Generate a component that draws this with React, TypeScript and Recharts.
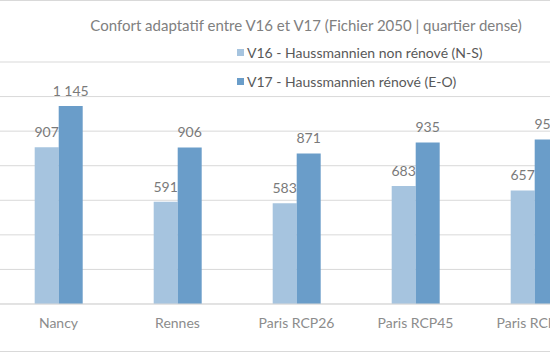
import React from "react";
import {
  BarChart,
  Bar,
  XAxis,
  YAxis,
  CartesianGrid,
  LabelList,
} from "recharts";

const categories = ["Nancy", "Rennes", "Paris RCP26", "Paris RCP45", "Paris RCP85"];
const v16Values = [907, 591, 583, 683, 657];
const v17Values = [1145, 906, 871, 935, 952];
const yTicks = [0, 200, 400, 600, 800, 1000, 1200, 1400];

const V16_NAME = "V16 - Haussmannien non rénové (N-S)";
const V17_NAME = "V17 - Haussmannien rénové (E-O)";
const TITLE = "Confort adaptatif entre V16 et V17 (Fichier 2050 | quartier dense)";

const LIGHT = "#a6c4df";
const DARK = "#6a9dc9";
const FONT = "Lato, 'Liberation Sans', sans-serif";

const data = categories.map((name, i) => ({
  name,
  v16: v16Values[i],
  v17: v17Values[i],
}));

const fmt = (v: any) => {
  const s = String(v);
  if (s.length > 3) return s.slice(0, s.length - 3) + " " + s.slice(s.length - 3);
  return s;
};

// plain text label above a bar, no wrapping
const TopLabel = (props: any) => {
  const { x, y, width, value } = props;
  return (
    <text
      x={x + width / 2}
      y={y - 10}
      textAnchor="middle"
      fill="#7a7a7a"
      fontSize={14}
      fontFamily={FONT}
    >
      {fmt(value)}
    </text>
  );
};

const legendItems = [
  { name: V16_NAME, color: LIGHT },
  { name: V17_NAME, color: DARK },
];

export default function App() {
  return (
    <div
      style={{
        position: "fixed",
        left: 0,
        top: 0,
        width: 550,
        height: 353,
        overflow: "hidden",
        background: "#fff",
      }}
    >
      <div style={{ position: "absolute", left: 0, top: 0, width: 550, height: 1, background: "#d9d9d9" }} />
      <div style={{ position: "absolute", left: 0, top: 351, width: 550, height: 1, background: "#d9d9d9" }} />
      <div style={{ position: "absolute", left: -1, top: 0 }}>
        <BarChart
          width={595}
          height={353}
          data={data}
          margin={{ top: 62, right: 0, left: 0, bottom: 0 }}
          barCategoryGap="30%"
          barGap={0}
        >
          <CartesianGrid vertical={false} stroke="#d9d9d9" />
          <XAxis
            dataKey="name"
            height={49}
            axisLine={{ stroke: "#d9d9d9" }}
            tickLine={false}
            tickMargin={8}
            tick={{ fill: "#8c8c8c", fontSize: 14, fontFamily: FONT }}
          />
          <YAxis hide domain={[0, 1400]} ticks={yTicks} />
          <Bar dataKey="v16" name={V16_NAME} fill={LIGHT} isAnimationActive={false}>
            <LabelList dataKey="v16" content={TopLabel} />
          </Bar>
          <Bar dataKey="v17" name={V17_NAME} fill={DARK} isAnimationActive={false}>
            <LabelList dataKey="v17" content={TopLabel} />
          </Bar>
        </BarChart>
      </div>
      <div
        style={{
          position: "absolute",
          left: 0,
          width: 612,
          top: 16,
          textAlign: "center",
          fontFamily: FONT,
          fontSize: 15,
          color: "#808080",
          whiteSpace: "nowrap",
        }}
      >
        {TITLE}
      </div>
      <div
        style={{
          position: "absolute",
          left: 237,
          top: 38,
          fontFamily: FONT,
          fontSize: 14,
          color: "#595959",
        }}
      >
        {legendItems.map((item) => (
          <div
            key={item.name}
            style={{ display: "flex", alignItems: "center", height: 29, whiteSpace: "nowrap" }}
          >
            <span
              style={{
                display: "inline-block",
                width: 7,
                height: 7,
                background: item.color,
                marginRight: 3,
              }}
            />
            {item.name}
          </div>
        ))}
      </div>
    </div>
  );
}
